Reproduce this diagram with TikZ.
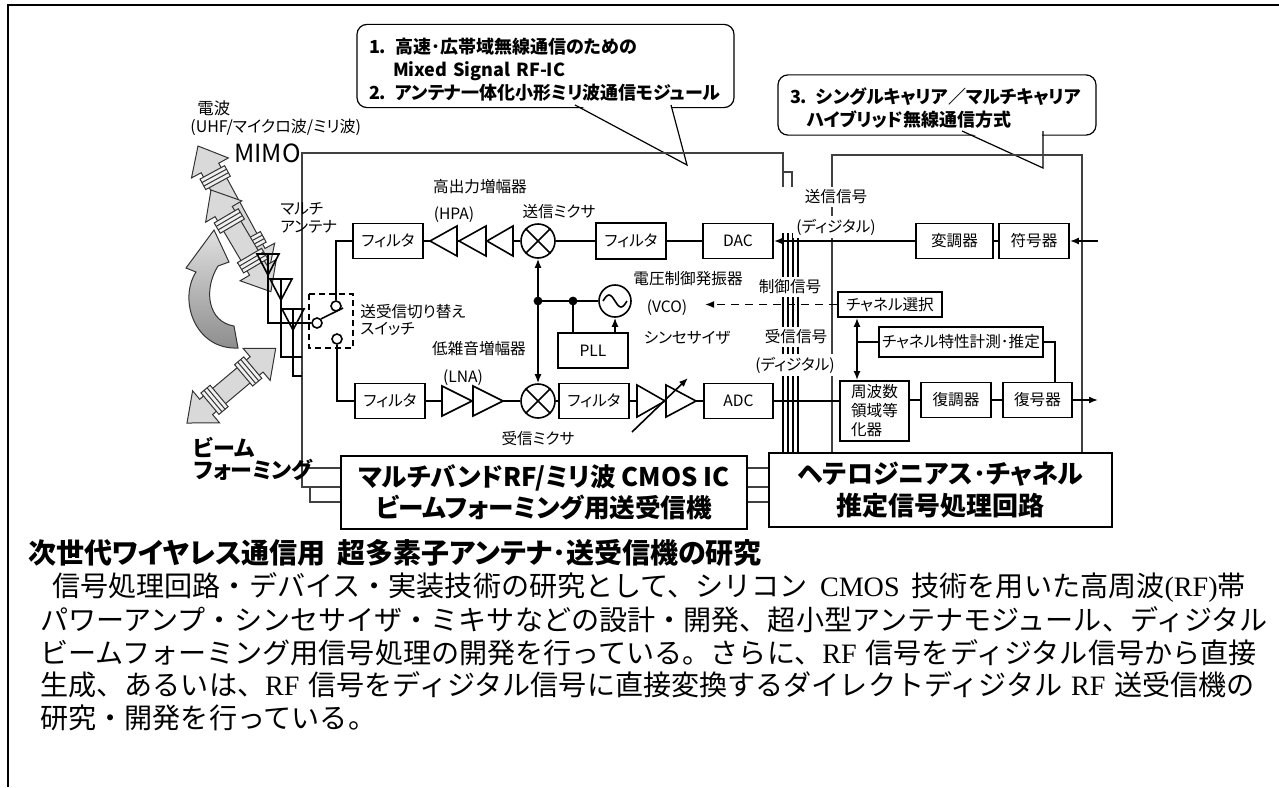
\documentclass[tikz,border=0pt]{standalone}
\usepackage{fontspec}
\setmainfont{Noto Sans CJK JP}
\newfontfamily\dg{Noto Sans CJK JP}[RawFeature=+palt]
\newfontfamily\lserif{Liberation Serif}
\usetikzlibrary{arrows.meta}

% double-headed beam arrow with two coil bands: start point, angle, length
\newcommand\beamarrow[3]{%
  \begin{scope}[shift={#1},rotate=#2]
    \draw[beam] (0,0) -- (25,-21) -- (25,-10) -- ({#3-25},-10) -- ({#3-25},-21)
      -- (#3,0) -- ({#3-25},21) -- ({#3-25},10) -- (25,10) -- (25,21) -- cycle;
    \foreach \s in {30,#3-42}{
      \draw[ring] (\s,-14) -- ({\s+12},-14) -- ({\s+12},14) -- (\s,14) -- cycle;
      \draw[ringline] ({\s+4},-14) -- ({\s+4},14) ({\s+8},-14) -- ({\s+8},14);
    }
  \end{scope}}

\begin{document}
\begin{tikzpicture}[x=0.5pt,y=-0.5pt,
  >={Latex[length=4.5pt,width=3.5pt]},
  lbl/.style={inner sep=0.5pt, font={\dg\fontsize{7.8pt}{9pt}\selectfont}},
  wlbl/.style={lbl, fill=white, inner sep=1.5pt},
  box/.style={draw, line width=0.9pt, fill=white, inner sep=0pt,
    minimum width=35pt, minimum height=17.5pt,
    font={\dg\fontsize{7.8pt}{9pt}\selectfont}},
  conn/.style={line width=0.8pt},
  outl/.style={line width=0.6pt, black!75},
  bus/.style={line width=0.6pt},
  callout/.style={draw, line width=0.6pt, rounded corners=5pt, fill=white,
    align=left, inner xsep=6pt, font={\dg\bfseries\fontsize{9pt}{11.5pt}\selectfont}},
  bigbox/.style={draw, line width=0.9pt, fill=white, align=center, inner sep=0pt},
  contact/.style={circle, draw, line width=0.8pt, fill=white, minimum size=5pt, inner sep=0pt},
  mixer/.style={circle, draw, line width=0.8pt, fill=white, minimum size=17pt, inner sep=0pt},
  beam/.style={fill=black!15, draw=black!80, line width=0.5pt},
  ring/.style={fill=black!6, draw=black!80, line width=0.5pt},
  ringline/.style={draw=black!80, line width=0.5pt},
  amp/.style={draw, line width=0.8pt, fill=white},
  body/.style={inner sep=0pt, anchor=west, font={\fontsize{14.05pt}{16pt}\selectfont}},
]
\useasboundingbox (0,0) rectangle (1279,787);

% page frame
\draw[line width=1pt] (8,787) -- (8,5) -- (1279,5);

% callouts
\node[callout, minimum width=188.5pt, minimum height=39pt, text width=176.5pt] (cal1) at (545.5,66)
  {\rule{0pt}{11pt}1. 高速･広帯域無線通信のための\\\hspace*{12pt}Mixed Signal RF-IC\\2. アンテナ一体化小形ミリ波通信モジュール};
\fill[white] (577,104) -- (687,165) -- (670,104) -- cycle;
\draw[line width=0.6pt] (575,105) -- (687,165) -- (671,105);

\node[callout, minimum width=159pt, minimum height=26pt, text width=147pt] (cal3) at (937,105)
  {\rule{0pt}{11pt}3. シングルキャリア／マルチキャリア\\\hspace*{8.5pt}ハイブリッド無線通信方式};
\fill[white] (964,130) -- (1043,168) -- (1042,130) -- cycle;
\draw[line width=0.6pt] (962,131) -- (1043,168) -- (1043,131);

% large circuit blocks
\node[bigbox, minimum width=203pt, minimum height=36.5pt,
  font={\dg\bfseries\fontsize{12.8pt}{15.5pt}\selectfont}] (bigL) at (544,492.5)
  {マルチバンドRF/ミリ波 CMOS IC\\ビームフォーミング用送受信機};
\node[bigbox, minimum width=171.5pt, minimum height=37pt,
  font={\dg\bfseries\fontsize{13pt}{16pt}\selectfont}] (bigR) at (940.5,490)
  {ヘテロジニアス･チャネル\\推定信号処理回路};

% block outlines
\draw[outl] (bigL.west |- 0,487) -- (302,487) -- (302,153) -- (783,153) -- (783,187);
\draw[outl] (783,172) -- (792,172) -- (792,187);
\draw[outl] (307,468) -- (bigL.west |- 0,468);
\draw[outl] (310,487) -- (310,502) -- (bigL.west |- 0,502);
\foreach \yy in {468,487,502} \draw[outl] (bigL.east |- 0,\yy) -- (bigR.west |- 0,\yy);
\draw[outl] (832,0 |- bigR.north) -- (832,155) -- (1082,155) -- (1082,0 |- bigR.north);
\foreach \xx in {783,788,793,798} \draw[bus] (\xx,233) -- (\xx,0 |- bigR.north);

% curved beam-steering arrow
\shadedraw[top color=black!12, bottom color=black!45, draw=black!80, line width=0.5pt]
  (238,348) .. controls (195,350) and (178,300) .. (196,272) -- (186,268) -- (214,230)
  -- (229,262) -- (218,266) .. controls (203,290) and (208,322) .. (234,326) -- cycle;

% beams
\beamarrow{(198,146)}{-61.5}{147}
\beamarrow{(211,190)}{-59.5}{118}
\beamarrow{(187,423)}{40.1}{116}

% transmit chain
\node[box] (txf) at (388,241) {フィルタ};
\node[box, minimum height=18pt] (txf2) at (631,241) {フィルタ};
\node[box] (dac) at (738,241) {DAC};
\node[box, minimum width=38.5pt] (mod) at (954.5,241) {変調器};
\node[box] (enc) at (1034,241) {符号器};
\node[mixer] (txmix) at (538,241) {};
\coordinate (txin) at (1098,241);

% receive chain
\node[box] (rxf) at (390,401) {フィルタ};
\node[mixer] (rxmix) at (538,401) {};
\node[box] (rxf2) at (594,401) {フィルタ};
\node[box, minimum width=34.5pt] (adc) at (738.5,401) {ADC};
\node[box, minimum width=34.5pt, minimum height=30pt, align=left,
  font={\dg\fontsize{7.8pt}{9.5pt}\selectfont}] (feq) at (874.5,411) {周波数\\領域等\\化器};
\node[box] (dem) at (956,400) {復調器};
\node[box, minimum width=34.5pt] (dec) at (1037.5,400) {復号器};
\coordinate (rxout) at (1098,400);

% channel control
\node[box, minimum width=52pt, minimum height=12.5pt] (chsel) at (890,304.5) {チャネル選択};
\node[box, minimum width=82pt, minimum height=15pt] (chest) at (961,342) {チャネル特性計測･推定};
\coordinate (vcoin) at (705,304.5);

% synthesizer
\node[box] (pll) at (593,350.5) {PLL};
\node[circle, draw, line width=0.8pt, fill=white, minimum size=16pt, inner sep=0pt] (vco) at (615,301) {};
\coordinate (jA) at (538,301);
\coordinate (jB) at (573,301);

% switch
\node[contact] (swc) at (317,323) {};
\node[contact] (swt) at (336,306) {};
\node[contact] (swr) at (337,339) {};
\coordinate (blade) at (343,308);
\draw[line width=0.6pt, dash pattern=on 3pt off 2pt] (309,294) rectangle (353,348);

% antennas and feeds
\draw[conn] (268,254) -- (268,323) -- (swc.west);
\draw[conn] (281,279) -- (281,357) -- (302,357);
\draw[conn] (293,309) -- (293,376) -- (302,376);
\foreach \cx/\ty in {268/254, 281/279, 293/309}
  \draw[conn] (\cx-11,\ty) -- (\cx+11,\ty) -- (\cx,\ty+21) -- cycle;
\draw[conn] (swc.north east) -- (blade);

% transmit connectors
\draw[conn, <-] (enc.east) -- (txin);
\draw[conn] (mod.east) -- (enc.west);
\draw[conn, ->] (mod.west) -- (dac.east);
\draw[conn] (dac.west) -- (txf2.east);
\draw[conn] (txf2.west) -- (txmix.east);
\draw[conn] (txmix.west) -- (txf.east);
\draw[conn] (txf.west) -| (swt.north);
\foreach \b/\t in {457/430, 486/459, 513/487}
  \draw[amp] (\b,226) -- (\t,241) -- (\b,256) -- cycle;

% receive connectors
\draw[conn] (swr.south) |- (rxf.west);
\draw[conn] (rxf.east) -- (rxmix.west);
\draw[conn] (rxmix.east) -- (rxf2.west);
\draw[conn] (rxf2.east) -- (adc.west);
\foreach \b/\t in {442/472, 473/503}
  \draw[amp] (\b,386) -- (\t,401) -- (\b,416) -- cycle;
\foreach \b/\t in {637/665, 666/696}
  \draw[amp] (\b,385) -- (\t,401) -- (\b,417) -- cycle;
\draw[conn, ->] (632,432) -- (688,378);
\draw[conn] (adc.east) -- (adc.east -| feq.west);
\draw[conn] (dem.west -| feq.east) -- (dem.west);
\draw[conn] (dem.east) -- (dec.west);
\draw[conn, ->] (dec.east) -- (rxout);

% mixer symbols
\foreach \m in {txmix, rxmix}
  \draw[conn] (\m.north west) -- (\m.south east) (\m.north east) -- (\m.south west);

% local oscillator
\draw[conn, <->] (txmix.south) -- (rxmix.north);
\draw[conn] (jA) -- (vco.west);
\draw[conn] (jB) -- (jB |- pll.north);
\draw[conn, ->] (vco.south |- pll.north) -- (vco.south);
\fill (jA) circle (2.2pt);
\fill (jB) circle (2.2pt);
\draw[line width=0.8pt] (603,301) sin (609,295) cos (615,301) sin (621,307) cos (627,301);

% channel control connectors
\draw[conn, <->] (chsel.south -| 857,0) -- (feq.north -| 857,0);
\draw[conn] (857,0 |- chest.west) -- (chest.west);
\draw[conn] (chest.east) -| (dec.north -| 1055,0);

% labels
\node[lbl, font={\dg\fontsize{8.2pt}{9.5pt}\selectfont}, anchor=west] (lw1) at (196,108) {電波};
\node[lbl, font={\dg\fontsize{8pt}{9.5pt}\selectfont}, anchor=west] (lw2) at (189,127) {(UHF/マイクロ波/ミリ波)};
\node[inner sep=0pt, font={\dg\fontsize{12.5pt}{14pt}\selectfont}, anchor=east] (mimo) at (301,153) {MIMO};
\node[lbl, anchor=west] (lma1) at (279,209) {マルチ};
\node[lbl, anchor=west] (lma2) at (279,227) {アンテナ};
\node[lbl, anchor=west] (lsw1) at (359,312) {送受信切り替え};
\node[lbl, anchor=west] (lsw2) at (359,329) {スイッチ};
\node[lbl] (lhpa1) at (480,187) {高出力増幅器};
\node[lbl] (lhpa2) at (454,215) {(HPA)};
\node[lbl] (ltxm) at (559,212) {送信ミクサ};
\node[lbl] (lvco1) at (688,279) {電圧制御発振器};
\node[lbl] (lvco2) at (667,308) {(VCO)};
\node[lbl] (lsyn) at (687,338) {シンセサイザ};
\node[lbl] (llna1) at (479,349) {低雑音増幅器};
\node[lbl] (llna2) at (463,378) {(LNA)};
\node[lbl] (lrxm) at (538,439) {受信ミクサ};
\node[wlbl] (ltx1) at (836,197) {送信信号};
\node[wlbl] (ltx2) at (836,227) {(ディジタル)};
\node[wlbl] (lctl) at (790,287) {制御信号};
\node[wlbl] (lrx1) at (796,337) {受信信号};
\node[wlbl] (lrx2) at (795,365) {(ディジタル)};
\node[lbl, font={\dg\bfseries\fontsize{11pt}{12pt}\selectfont}, anchor=west] (lbf1) at (192,447) {ビーム};
\node[lbl, font={\dg\bfseries\fontsize{11pt}{12pt}\selectfont}, anchor=west] (lbf2) at (192,470) {フォーミング};

% dashed control line drawn over the bus
\draw[conn, dash pattern=on 4pt off 3pt, ->] (chsel.west) -- (vcoin);

% caption and description
\node[inner sep=0pt, anchor=west, font={\dg\bfseries\fontsize{14pt}{16pt}\selectfont}] (ttl) at (28,553)
  {次世代ワイヤレス通信用\hspace{6pt}超多素子アンテナ･送受信機の研究};
\node[body] (p1) at (52,588) {信号処理回路・デバイス・実装技術の研究として、シリコン\hspace{6pt}{\lserif CMOS}\hspace{6pt}技術を用いた高周波{\lserif(RF)}帯};
\node[body] (p2) at (40,620) {パワーアンプ・シンセサイザ・ミキサなどの設計・開発、超小型アンテナモジュール、ディジタル};
\node[body] (p3) at (40,653) {ビームフォーミング用信号処理の開発を行っている。さらに、{\lserif RF}\hspace{4.5pt}信号をディジタル信号から直接};
\node[body] (p4) at (40,685) {生成、あるいは、{\lserif RF}\hspace{4.5pt}信号をディジタル信号に直接変換するダイレクトディジタル\hspace{4.5pt}{\lserif RF}\hspace{4.5pt}送受信機の};
\node[body] (p5) at (40,718) {研究・開発を行っている。};
\end{tikzpicture}
\end{document}
